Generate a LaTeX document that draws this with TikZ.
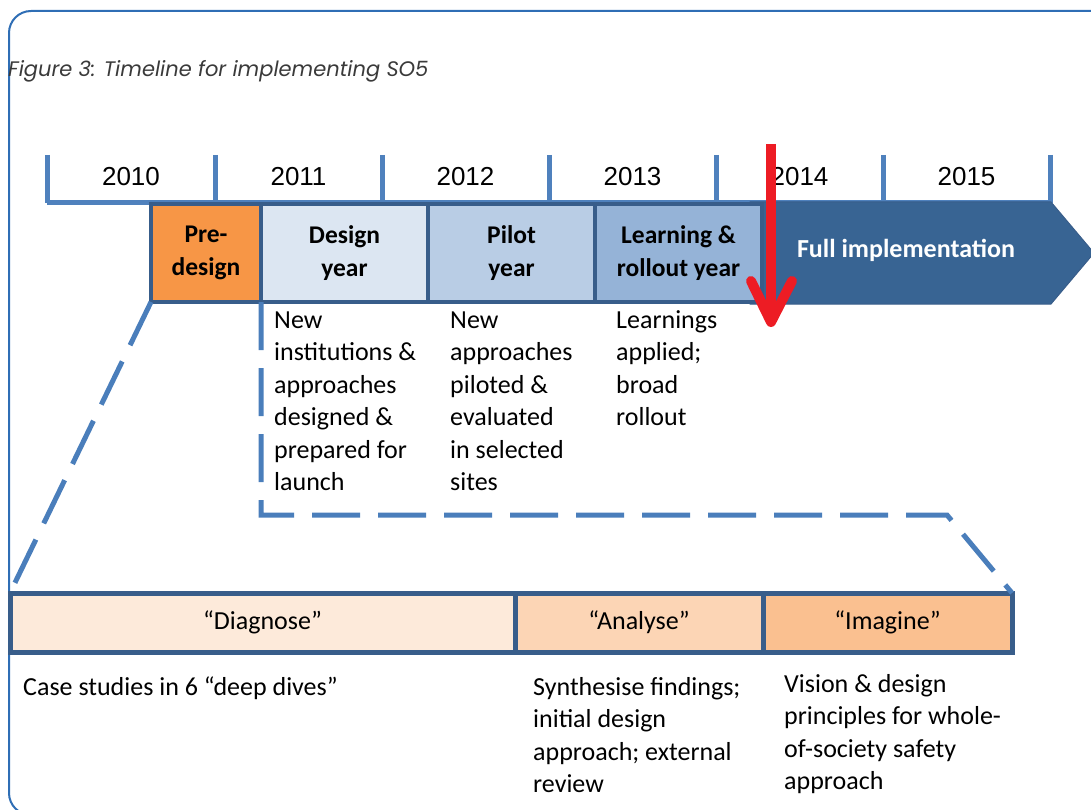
\documentclass[tikz,border=0pt]{standalone}
\usepackage{fontspec}
\usetikzlibrary{calc}
\setmainfont{Carlito}
\newfontfamily\yearfont{Liberation Sans}
\newfontfamily\titlefont{Poppins}
\definecolor{framecol}{HTML}{2F6EB5}
\definecolor{rulecol}{HTML}{4F81BD}
\definecolor{boxedge}{HTML}{385D8A}
\definecolor{predesigncol}{HTML}{F79646}
\definecolor{designcol}{HTML}{DCE6F2}
\definecolor{pilotcol}{HTML}{B9CDE5}
\definecolor{learncol}{HTML}{95B3D7}
\definecolor{fullcol}{HTML}{386493}
\definecolor{diagcol}{HTML}{FDEADA}
\definecolor{analcol}{HTML}{FCD5B5}
\definecolor{imagcol}{HTML}{FAC090}
\definecolor{dashcol}{HTML}{4A7EBB}
\definecolor{nowcol}{HTML}{ED1C24}
\definecolor{titlecol}{HTML}{3A3A3A}
\begin{document}
\begin{tikzpicture}[x=1pt,y=-1pt,
  tick/.style={draw=rulecol,line width=5pt},
  yearlabel/.style={inner sep=0pt,font=\yearfont\fontsize{26}{30}\selectfont},
  phase/.style={draw=boxedge,line width=4pt,inner sep=0pt,outer sep=0pt,anchor=north west,
    minimum height=98pt,align=center,font=\bfseries\fontsize{25.5}{33}\selectfont},
  stage/.style={draw=boxedge,line width=5pt,inner sep=0pt,outer sep=0pt,anchor=north west,
    minimum height=59pt,font=\fontsize{26}{30}\selectfont},
  desc/.style={anchor=base west,inner sep=0pt,font=\fontsize{26}{32.5}\selectfont},
  zoomline/.style={draw=dashcol,line width=5pt,dash pattern=on 48pt off 18pt},
]
\useasboundingbox (0,0) rectangle (1091,810);

% outer frame
\draw[framecol,line width=2pt,rounded corners=22pt] (1100,11) -- (9,11) -- (9,815) -- (1100,815);

% caption
\node[anchor=base west,inner sep=0pt,text=titlecol,font=\titlefont\itshape\fontsize{21}{24}\selectfont]
  (caption) at (8,77) {Figure 3: Timeline for implementing SO5};

% year ruler
\foreach \i/\x in {0/47,1/215,2/382,3/549,4/716,5/883,6/1050}{
  \coordinate (t\i) at (\x,203);
  \draw[tick] (\x,155) -- (t\i);
}
\draw[tick] (t0) -- (t6);
\foreach \i/\y [count=\j] in {0/2010,1/2011,2/2012,3/2013,4/2014,5/2015}{
  \node[yearlabel] (y\y) at ($(t\i)!0.5!(t\j)+(0,-26)$) {\y};
}

% full implementation arrow
\draw[fill=fullcol,draw=boxedge,line width=1pt]
  (750,202) -- (1051,202) -- (1094,253) -- (1051,304) -- (750,304) -- cycle;
\node[text=white,font=\bfseries\fontsize{26}{30}\selectfont,inner sep=0pt] (full) at (906,250) {Full implementation};

% phase boxes
\node[phase,fill=predesigncol,minimum width=110pt] (pre) at (151,204) {Pre-\\design};
\node[phase,fill=designcol,minimum width=167pt] (design) at (261,204) {Design\\year};
\node[phase,fill=pilotcol,minimum width=167pt] (pilot) at (428,204) {Pilot\\year};
\node[phase,fill=learncol,minimum width=167pt] (learn) at (595,204) {Learning \&\\rollout year};

% bottom bar
\node[stage,fill=diagcol,minimum width=505pt] (diag) at (10,593) {“Diagnose”};
\node[stage,fill=analcol,minimum width=248pt] (anal) at (515,593) {“Analyse”};
\node[stage,fill=imagcol,minimum width=249pt] (imag) at (763,593) {“Imagine”};

% zoom lines from the pre-design box to the bar
\coordinate (zc1) at (261,515);
\coordinate (zc2) at (947,515);
\draw[zoomline] (pre.south west) -- (diag.north west);
\draw[zoomline] (design.south west) -- (zc1) -- (zc2) -- (imag.north east);

% descriptions
\node[desc] (d1) at (274,328) {\begin{tabular}[t]{@{}l@{}}New\\institutions \&\\approaches\\designed \&\\prepared for\\launch\end{tabular}};
\node[desc] (d2) at (450,328) {\begin{tabular}[t]{@{}l@{}}New\\approaches\\piloted \&\\evaluated\\in selected\\sites\end{tabular}};
\node[desc] (d3) at (616,328) {\begin{tabular}[t]{@{}l@{}}Learnings\\applied;\\broad\\rollout\end{tabular}};

\node[desc] (b1) at (23,695) {Case studies in 6 “deep dives”};
\node[desc] (b2) at (533,695) {\begin{tabular}[t]{@{}l@{}}Synthesise findings;\\initial design\\approach; external\\review\end{tabular}};
\node[desc] (b3) at (784,692) {\begin{tabular}[t]{@{}l@{}}Vision \& design\\principles for whole-\\of-society safety\\approach\end{tabular}};

% "now" marker
\coordinate (nowtop) at (771,144);
\coordinate (nowtip) at (771,322);
\draw[nowcol,line width=10pt] (nowtop) -- ($(nowtip)+(0,-6)$);
\draw[nowcol,line width=10pt,line cap=round,line join=round] (751,281) -- (nowtip) -- (792,281);
\end{tikzpicture}
\end{document}
